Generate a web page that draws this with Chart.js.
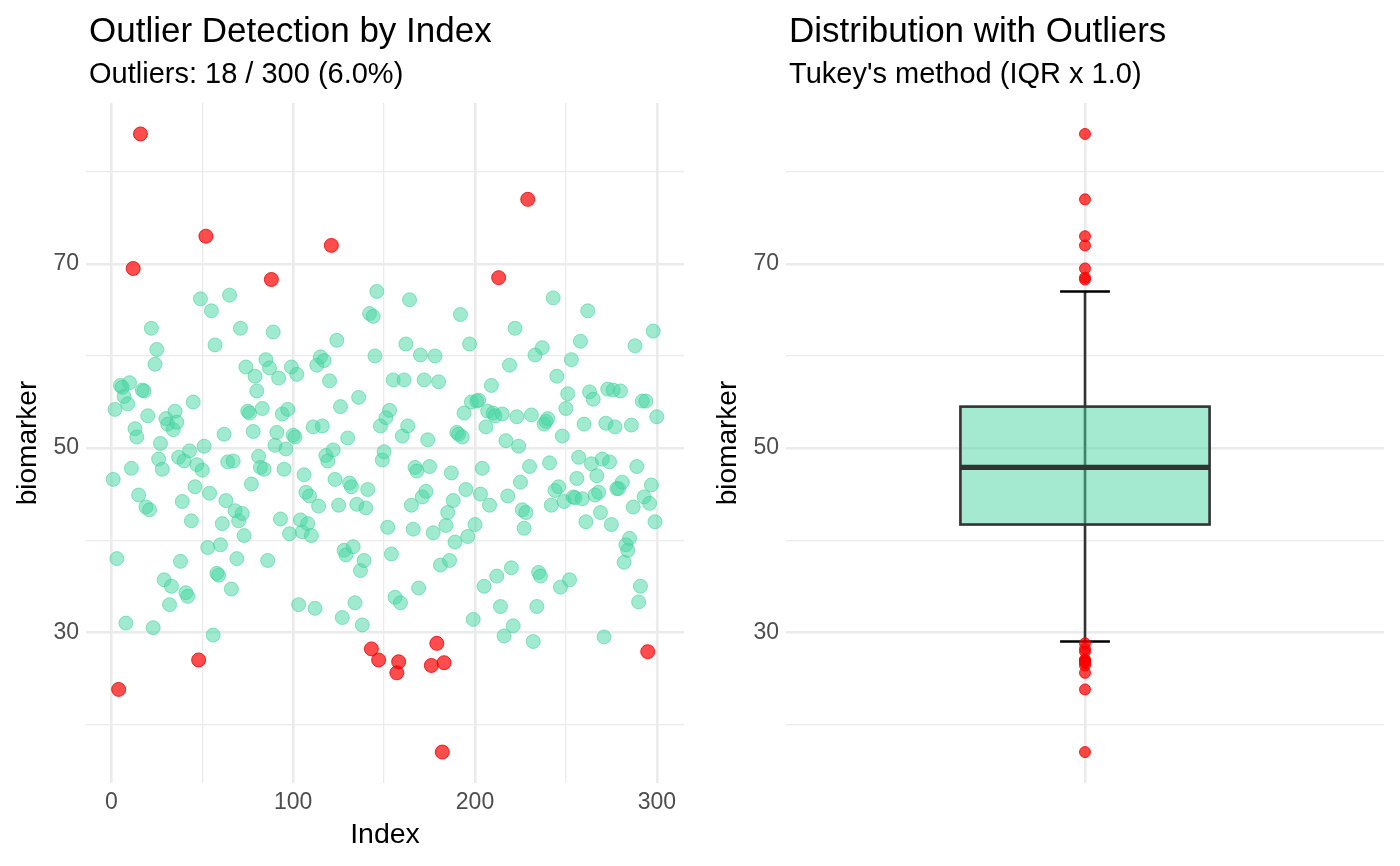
<!DOCTYPE html>
<html>
<head>
<meta charset="utf-8">
<script src="https://cdn.jsdelivr.net/npm/chart.js@4.4.1/dist/chart.umd.min.js"></script>
<style>
html,body{margin:0;padding:0;background:#fff;}
#wrap{position:relative;width:1400px;height:866px;overflow:hidden;font-family:"Liberation Sans",Arial,sans-serif;}
canvas{position:absolute;top:0;}
.t{position:absolute;white-space:nowrap;color:#000;}
.title{font-size:35px;line-height:35px;}
.sub{font-size:29px;line-height:29px;}
</style>
</head>
<body>
<div id="wrap">
<canvas id="c1" width="700" height="866" style="left:0px;width:700px;height:866px"></canvas>
<canvas id="c2" width="700" height="866" style="left:700px;width:700px;height:866px"></canvas>
<div class="t title" style="left:89px;top:12px">Outlier Detection by Index</div>
<div class="t sub" style="left:89px;top:59px">Outliers: 18 / 300 (6.0%)</div>
<div class="t title" style="left:789px;top:12px">Distribution with Outliers</div>
<div class="t sub" style="left:789px;top:59px">Tukey's method (IQR x 1.0)</div>
</div>
<script>
// ---- data ----
const biomarker = [
46.6,54.2,38.0,23.8,56.8,56.6,55.6,31.0,54.8,57.1,
47.8,69.5,52.1,51.2,44.9,84.1,56.3,56.2,43.6,53.5,
43.3,63.0,30.5,59.1,60.7,48.8,50.5,47.7,35.7,53.2,
52.6,33.0,35.0,52.0,54.0,52.8,49.0,37.7,44.2,48.6,
34.3,33.9,49.7,42.1,55.0,45.8,48.2,27.0,66.2,47.6,
50.2,73.0,39.2,45.1,64.9,29.7,61.2,36.4,36.2,39.5,
41.8,51.5,44.3,48.5,66.6,34.7,48.6,43.2,38.0,42.1,
63.0,42.9,40.5,58.8,54.0,53.8,46.1,51.8,57.8,56.2,
49.1,47.9,54.3,47.7,59.6,37.8,58.7,68.3,62.6,50.3,
51.7,57.6,42.3,53.7,47.7,49.9,54.2,40.7,58.8,51.4,
51.2,58.0,33.0,42.2,40.9,47.1,45.2,41.8,44.8,40.5,
52.3,32.6,59.0,43.7,59.9,52.4,59.5,49.2,48.6,57.3,
72.0,49.8,46.6,61.7,43.8,54.5,31.6,38.9,38.4,51.1,
46.2,45.8,39.3,33.2,43.9,55.5,36.7,30.8,37.8,43.5,
45.5,64.6,28.2,64.3,60.0,67.0,27.0,52.4,48.7,49.6,
53.3,41.4,54.1,38.5,57.4,33.8,25.6,26.8,33.2,51.3,
57.4,61.3,52.4,66.1,43.8,41.2,47.9,47.5,34.8,60.1,
44.7,57.4,45.3,50.9,48.0,26.4,40.8,60.0,28.8,57.2,
37.3,17.0,26.7,41.6,43.0,37.8,47.3,44.3,39.8,51.7,
51.5,64.5,51.2,53.8,45.5,40.4,61.3,55.0,31.4,41.7,
55.1,55.2,45.0,47.8,35.0,52.3,54.0,43.8,56.8,53.8,
53.5,36.1,68.5,32.8,53.7,29.6,50.8,44.8,59.0,37.0,
30.7,63.0,53.4,50.2,46.3,43.3,41.3,43.0,77.0,48.0,
53.6,29.0,60.1,32.8,36.5,36.1,60.9,52.6,52.9,53.2,
48.4,43.8,66.3,45.4,57.8,45.8,34.9,51.3,44.2,54.3,
55.9,35.7,59.6,44.7,44.6,46.7,49.0,61.6,44.5,52.6,
42.0,64.9,56.1,48.3,55.3,44.9,47.0,45.2,43.0,48.8,
29.5,52.7,56.4,48.5,41.7,56.3,52.3,45.6,45.6,56.2,
46.3,37.6,39.5,38.9,40.2,52.5,43.6,61.1,48.0,33.3,
35.0,55.1,44.7,55.1,27.9,44.0,46.0,62.7,42.0,53.4
];
const outlierIndex = [4,12,16,48,52,88,121,143,147,157,158,176,179,182,183,213,229,295];
const boxQuartiles = [41.7, 47.9, 54.5];   // Q1, median, Q3
const boxWhiskers = [29.0, 67.0];          // lower, upper whisker ends
const indexTicks = [0, 50, 100, 150, 200, 250, 300];
const indexLabels = [0, 100, 200, 300];
const biomarkerTicks = [20, 30, 40, 50, 60, 70, 80];
const biomarkerLabels = [30, 50, 70];

// ---- styling ----
const FONT = '"Liberation Sans", Arial, sans-serif';
const GRID = '#EBEBEB';
const MAJOR_W = 2.6, MINOR_W = 1.3;
const GREEN_FILL = 'rgba(72,214,164,0.52)';
const GREEN_EDGE = 'rgba(60,205,150,0.55)';
const RED_FILL = 'rgba(255,0,0,0.70)';
const RED_EDGE = 'rgba(235,0,0,0.80)';
const Y_MIN = 13.64, Y_MAX = 87.46;

const allPts = biomarker.map((v, i) => ({x: i + 1, y: v}));
const normalPts = allPts.filter(p => !outlierIndex.includes(p.x));
const outPts = allPts.filter(p => outlierIndex.includes(p.x));
const boxOutPts = outlierIndex.map(i => ({x: 0, y: biomarker[i - 1]}));

function yScale() {
  return {
    type: 'linear', min: Y_MIN, max: Y_MAX,
    afterBuildTicks: s => { s.ticks = biomarkerTicks.map(v => ({value: v})); },
    afterFit: s => { s.width = 86; },
    border: {display: false},
    grid: {color: GRID, drawTicks: false,
      lineWidth: c => biomarkerLabels.includes(c.tick && c.tick.value) ? MAJOR_W : MINOR_W},
    ticks: {padding: 7, color: '#4D4D4D', autoSkip: false,
      font: {size: 23, family: FONT},
      callback: v => biomarkerLabels.includes(v) ? String(v) : ''},
    title: {display: true, text: 'biomarker', color: '#000',
      font: {size: 28, family: FONT}, padding: {top: 11, bottom: 0}}
  };
}

const common = {
  responsive: false, animation: false, devicePixelRatio: 1,
  layout: {padding: {top: 103, right: 16, left: 0, bottom: 0}},
  plugins: {legend: {display: false}, tooltip: {enabled: false}, title: {display: false}}
};

new Chart(document.getElementById('c1'), {
  type: 'scatter',
  data: {datasets: [
    {data: normalPts, pointRadius: 7, pointHoverRadius: 7,
     backgroundColor: GREEN_FILL, borderColor: GREEN_EDGE, borderWidth: 1},
    {data: outPts, pointRadius: 7, pointHoverRadius: 7,
     backgroundColor: RED_FILL, borderColor: RED_EDGE, borderWidth: 1}
  ]},
  options: Object.assign({}, common, {
    scales: {
      x: {
        type: 'linear', min: -13.95, max: 314.95,
        afterBuildTicks: s => { s.ticks = indexTicks.map(v => ({value: v})); },
        afterFit: s => { s.height = 83; },
        border: {display: false},
        grid: {color: GRID, drawTicks: false,
          lineWidth: c => indexLabels.includes(c.tick && c.tick.value) ? MAJOR_W : MINOR_W},
        ticks: {padding: 6, color: '#4D4D4D', autoSkip: false, maxRotation: 0,
          font: {size: 23, family: FONT},
          callback: v => indexLabels.includes(v) ? String(v) : ''},
        title: {display: true, text: 'Index', color: '#000',
          font: {size: 28.5, family: FONT}, padding: {top: 0, bottom: 14}}
      },
      y: yScale()
    }
  })
});

const BOX_HALF = 0.25, CAP_HALF = 0.05;
const boxPlugin = {
  id: 'boxDraw',
  beforeDatasetsDraw(chart) {
    const {ctx, scales: {x, y}} = chart;
    const xc = x.getPixelForValue(0);
    const xl = x.getPixelForValue(-BOX_HALF), xr = x.getPixelForValue(BOX_HALF);
    const cl = x.getPixelForValue(-CAP_HALF), cr = x.getPixelForValue(CAP_HALF);
    const yLo = y.getPixelForValue(boxWhiskers[0]), yHi = y.getPixelForValue(boxWhiskers[1]);
    const yQ1 = y.getPixelForValue(boxQuartiles[0]);
    const yMed = y.getPixelForValue(boxQuartiles[1]);
    const yQ3 = y.getPixelForValue(boxQuartiles[2]);
    ctx.save();
    ctx.strokeStyle = '#333333'; ctx.lineWidth = 2.6;
    ctx.beginPath(); ctx.moveTo(xc, yLo); ctx.lineTo(xc, yHi); ctx.stroke();
    ctx.strokeStyle = '#000000'; ctx.lineWidth = 2.6;
    ctx.beginPath();
    ctx.moveTo(cl, yLo); ctx.lineTo(cr, yLo);
    ctx.moveTo(cl, yHi); ctx.lineTo(cr, yHi);
    ctx.stroke();
    ctx.fillStyle = 'rgba(72,214,164,0.5)';
    ctx.fillRect(xl, yQ3, xr - xl, yQ1 - yQ3);
    ctx.strokeStyle = '#333333'; ctx.lineWidth = 2.6;
    ctx.strokeRect(xl, yQ3, xr - xl, yQ1 - yQ3);
    ctx.lineWidth = 5.2;
    ctx.beginPath(); ctx.moveTo(xl, yMed); ctx.lineTo(xr, yMed); ctx.stroke();
    ctx.restore();
  }
};

new Chart(document.getElementById('c2'), {
  type: 'scatter',
  data: {datasets: [
    {data: boxOutPts, pointRadius: 5.5, pointHoverRadius: 5.5,
     backgroundColor: 'rgba(255,0,0,0.72)', borderColor: 'rgba(240,0,0,0.8)', borderWidth: 1}
  ]},
  options: Object.assign({}, common, {
    scales: {
      x: {
        type: 'linear', min: -0.6, max: 0.6,
        afterBuildTicks: s => { s.ticks = [{value: 0}]; },
        afterFit: s => { s.height = 83; },
        border: {display: false},
        grid: {color: GRID, drawTicks: false, lineWidth: MAJOR_W},
        ticks: {color: '#4D4D4D', font: {size: 23, family: FONT}, callback: () => ''}
      },
      y: yScale()
    }
  }),
  plugins: [boxPlugin]
});
</script>
</body>
</html>
